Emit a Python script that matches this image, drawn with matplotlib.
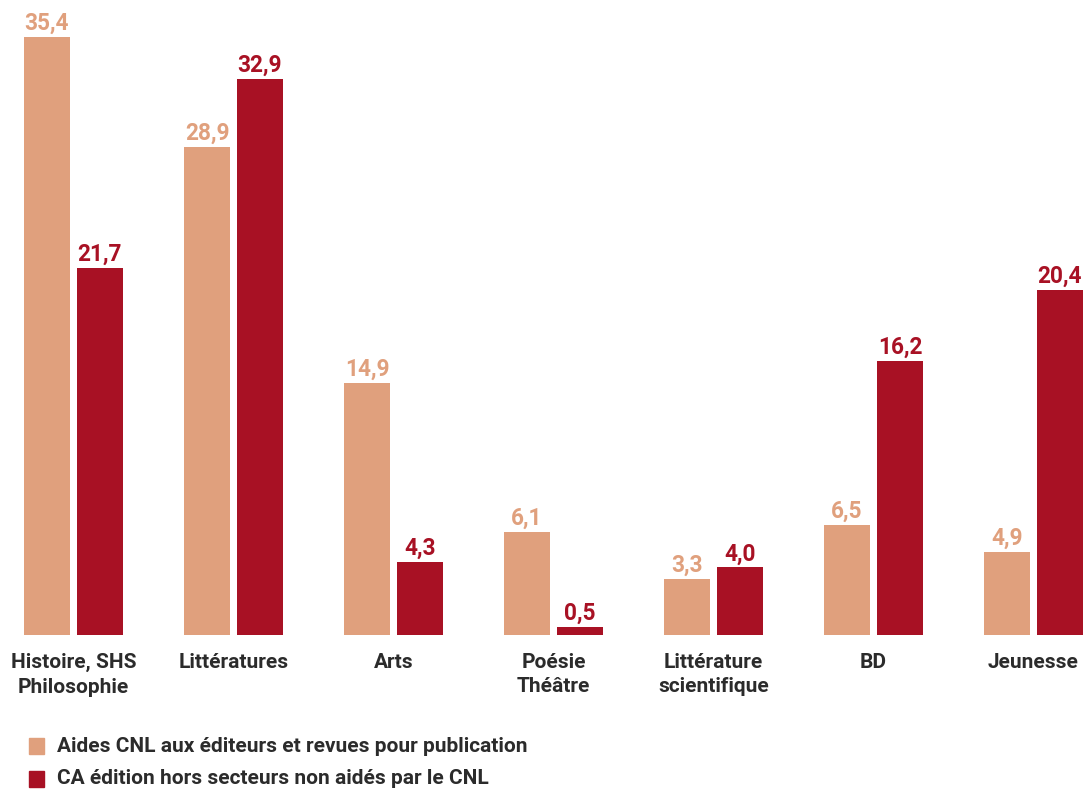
import matplotlib.pyplot as plt
import numpy as np

categories = ["Histoire, SHS\nPhilosophie", "Littératures", "Arts", "Poésie\nThéâtre",
              "Littérature\nscientifique", "BD", "Jeunesse"]
aides_cnl = [35.4, 28.9, 14.9, 6.1, 3.3, 6.5, 4.9]
ca_edition = [21.7, 32.9, 4.3, 0.5, 4.0, 16.2, 20.4]
series_names = ["Aides CNL aux éditeurs et revues pour publication",
                "CA édition hors secteurs non aidés par le CNL"]

light = "#E0A07D"
dark = "#A81124"
txt = "#2b2b2b"

plt.rcParams['font.family'] = ['Roboto', 'DejaVu Sans']

fig = plt.figure(figsize=(10.85, 7.92), dpi=100)
ax = fig.add_axes([0, 1 - 635 / 792, 1, 635 / 792])

x = np.arange(len(categories))
w = 46 / 160
off = 26.5 / 160

b1 = ax.bar(x - off, aides_cnl, w, color=light)
b2 = ax.bar(x + off, ca_edition, w, color=dark)

def fmt(v):
    return f"{v:.1f}".replace(".", ",")

for bars, vals, c in [(b1, aides_cnl, light), (b2, ca_edition, dark)]:
    for r, v in zip(bars, vals):
        ax.annotate(fmt(v), (r.get_x() + r.get_width() / 2, v), xytext=(0, 1.5),
                    textcoords="offset points", ha="center", va="bottom",
                    fontsize=16.3, fontweight="bold", color=c)

ax.set_xlim(-73.5 / 160, (1085 - 73.5) / 160)
ax.set_ylim(0, 635 / 16.9)
ax.axis("off")

for xi, lab in zip(x, categories):
    ax.text(xi, -1.05, lab, ha="center", va="top", fontsize=15,
            fontweight="bold", color=txt, linespacing=1.38)

# legend drawn by hand
for i, (name, c) in enumerate(zip(series_names, [light, dark])):
    yf = 1 - (746 + 33 * i) / 792
    fig.patches.append(plt.Rectangle((29 / 1085, yf - 8 / 792), 15 / 1085, 16 / 792,
                                     transform=fig.transFigure, color=c))
    fig.text(57 / 1085, yf, name, ha="left", va="center", fontsize=15,
             fontweight="bold", color=txt)

fig.savefig("out.png", dpi=100)
